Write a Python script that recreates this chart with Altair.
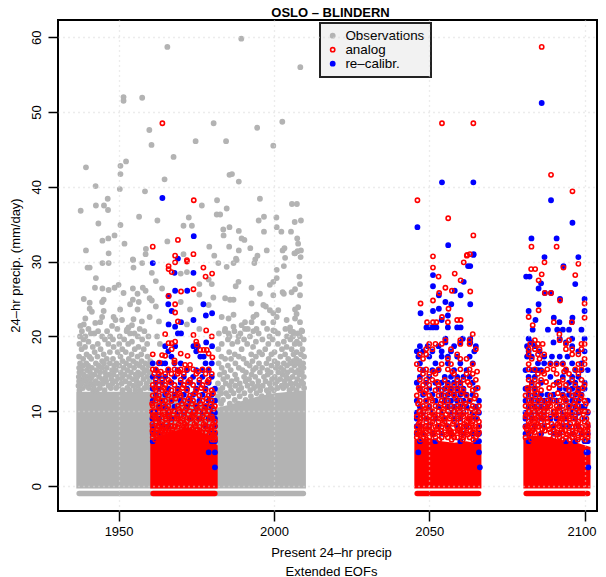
import altair as alt
import pandas as pd

F = "Liberation Sans"
GREY = "#b3b3b3"
XDOM = [1930.5, 2104.0]
YDOM = [-3.34, 62.3]

# solid, saturated parts of the clouds: upper envelope
MASS_BASE = -0.33
OBS_MASS_X = [1936.4, 1950, 1960, 1970, 1981, 1985, 1990, 1995, 2000, 2005, 2010.3]
OBS_MASS_Y = [12.6, 12.6, 12.6, 12, 10.4, 10.8, 11.4, 12, 12.4, 12.6, 12.8]
RED_MASS = [
    ([1960.2, 1964, 1968, 1972, 1976, 1979, 1981.9], [6.2, 6.8, 7.4, 7.8, 7.4, 6.6, 5.4]),
    ([2045.2, 2050, 2054, 2058, 2062, 2066.8], [6.2, 6.4, 6, 5.8, 6, 5.6]),
    ([2080.3, 2084, 2088, 2092, 2096, 2101.9], [6.4, 6.8, 6.6, 6.2, 6, 5.2]),
]
DRY_ROW_Y = -1
DRY_OBS = [1937.3, 2009.5]
DRY_RED = [[1961.1, 1981], [2046.1, 2065.9], [2081.2, 2101]]

OBS_PTS = [
 (1965.7,58.7),(1989.5,59.8),(2008.5,56.0),(1951.6,52.0),(1951.6,51.5),(1957.6,51.9),(1959.9,47.6),(1980.6,48.5),
 (1994.6,47.9),(2002.7,48.7),(1960.6,45.6),(1974.8,46.1),(1984.6,46.1),(1999.8,45.5),(1967.7,44.0),(1952.4,43.4),
 (1950.6,42.8),(1939.5,42.6),(1950.6,41.7),(1964.8,41.0),(1985.7,41.6),(1986.5,41.7),(1988.7,40.7),(1942.6,40.1),
 (1950.4,39.7),(1958.5,39.4),(1946.5,38.4),(1981.7,38.2),(1995.5,38.4),(2005.8,37.7),(2007.4,37.7),(1942.7,37.5),
 (1945.3,37.5),(1976.8,37.5),(1946.6,36.9),(1937.8,36.8),(1984.8,37.1),(1981.6,36.3),(1982.7,36.3),(1956.6,36.0),
 (1962.5,35.5),(1972.6,35.9),(1996.8,36.0),(1995.1,35.5),(2000.8,35.9),(2006.7,35.3),(2008.7,35.5),(1943.5,35.1),
 (1950.6,34.9),(1970.9,34.8),(1973.6,34.8),(2000.9,34.6),(1983.7,34.3),(1985.7,34.6),(1988.7,34.1),(1996.8,34.0),
 (2002.4,34.0),(2005.5,34.0),(1983.8,33.5),(1948.7,33.5),(1946.7,33.1),(1944.8,32.8),(1989.6,33.1),(1990.5,32.9),
 (2007.5,33.1),(2007.8,32.4),(1965.7,32.7),(1951.9,32.4),(1979.2,32.0),(1985.6,32.0),(1992.4,31.8),(1988.7,31.5),
 (1997.7,31.5),(1958.8,31.7),(1958.7,31.0),(1939.5,31.5),(1946.8,31.1),(2003.4,31.8),(2002.8,31.5),(2008.7,31.5),
 (2007.6,31.4),(2006.6,31.1),(1970.9,31.0),(1980.8,30.8),(1994.7,30.8),(1954.6,30.3),(1987.8,30.4),(2003.6,30.5),
 (2008.6,30.6),(1940.0,29.2),(1940.7,29.2),(1944.8,29.8),(1946.8,29.8),(1954.7,30.2),(1954.8,29.2),(1957.6,29.8),
 (1960.7,28.5),(1942.7,27.8),(1942.4,26.5),(1944.8,26.4),(1946.8,26.2),(1948.7,26.5),(1950,26.9),(1951.6,25.8),
 (1954.6,26.4),(1957.8,26.5),(1958.7,26.1),(1956.1,25.7),(1938.8,25.0),(1940.7,24.5),(1945.2,24.9),(1944.7,24.6),
 (1954.6,24.9),(1956.5,24.6),(1953.7,24.3),(1960,25.1),(1960.7,24.8),(1940.7,23.7),(1941.4,23.3),(1945.2,23.4),
 (1950.5,23.6),(1956.1,23.6),(1939.3,22.4),(1944.7,22.6),(1948.4,22.6),(1949,22.2),(1954.8,22.3),(1957.5,22),
 (1960,22.6),(1937.7,21.4),(1938.8,21.6),(1942.5,21.8),(1944.1,21.9),(1947.9,21.4),(1951.1,22.2),(1954.3,21.5),
 (1953.2,21.2),(1952.7,20.9),(1984.8,29.3),(1988,30.2),(1993.7,29.8),(1994,30.3),(2000.9,28.9),(2003.2,29.4),
 (1987,29.8),(2006.8,31.1),(1982.1,29.8),(2008.2,28),(2000.9,27.8),(1999.8,27.3),(1998.7,26.9),(1988.6,27.3),
 (1987.7,26.7),(1992.8,26.5),(2002.8,25.9),(2005.7,25.9),(2006.8,26.3),(2008.4,27),(1995.5,25.7),(1999.8,25.5),
 (1980.5,25.2),(1984.3,25.1),(1985.9,24.9),(1987,24.9),(1992.8,24.4),(1997.4,24),(2003.2,25.7),(2008.4,25.5),
 (2007.8,23.9),(2006.8,23.6),(1998.7,23.5),(1996.6,24.2),(1999.8,23.1),(2001.4,23.5),(1983.2,22.6),(1985.4,22.4),
 (1987,22.9),(1990.7,21.9),(1989.6,21.5),(1993.4,22.6),(1994.4,22.9),(1992.8,21.9),(1996.6,21.8),(1999.8,21.9),
 (2000.9,22.6),(2004.1,22.2),(2006.8,22.4),(2008.4,21.9),(2007.3,23),(1984.3,21),(1987,21.3),(1990.7,21),
 (1994.4,21),(1999.8,20.8),(2005.2,21.2),(2006.2,20.6),(2008.9,20.8),(1985.4,20.4),(1988.6,20),
 (1962,27.4),(1964,26.4),(1970,28.4),(1972,28.6),(1976,27),(1979,27.6),(1962,24),(1970,24.6),(1973,23.6),
 (1976,25.6),(1980,27),(1963,22),(1972,21.6),(1976,21),(1979,24.2),
]
OBS_LEVELS = [
 (21.0,[1940.3,1949.6,1956.8,1991.6,1997.8,2003.7]),
 (20.7,[1938.2,1943.4,1946.3,1952.6,1958.3,1984.2,1987.3,1993.4,2000.3,2005.4,2009.1]),
 (20.4,[1941.1,1955.1,1942.2,1953.7,1982.3,1989.2,1995.1,2001.3,2007.6]),
 (20.0,[1937.6,1939.3,1944.7,1947.3,1950.4,1956.2,1959.6,1962.4,1985.7,1992.3,1998.6,2004.2,2006.1,2008.4]),
 (19.6,[1938.7,1945.6,1948.2,1951.8,1957.6,1985.2,1990.4,1996.3,1999.6,2005.3,2009.6]),
 (19.3,[1940.3,1954.3,1988.3,1994.2,2003.2,2007.4]),
 (19.0,[1937.4,1943.3,1946.7,1950.2,1953.1,1959.2,1963.3,1983.2,1986.6,1991.4,1998.2,2001.3,2006.7,2008.3]),
 (18.6,[1939.2,1941.7,1948.4,1956.4,1993.3,2004.1]),
 (18.3,[1938.1,1944.2,1951.2,1955.2,1958.1,1982.1,1989.6,1997.2,2002.6,2005.7,2009.2]),
 (17.9,[1942.3,1947.2,1949.7,1952.3,1985.6,1995.3,2000.2,2007.3]),
 (17.6,[1939.7,1945.2,1954.2,1957.3,1987.4,1992.7,1996.2,1999.2,2003.6,2006.3,2008.7]),
 (17.3,[1937.3,1940.6,1943.2,1950.6,1956.1,1959.3,1983.1,1988.7,1994.2,2002.1,2009.7]),
 (17,[1938.6,1941.2,1946.2,1948.2,1953.3,1984.3,1986.2,1990.2,1998.3,2004.6,2007.2]),
 (16.7,[1944.7,1951.3,1954.7,1957.4,1960.2,1993.1,2000.2,2006.2,2008.2]),
 (16.4,[1937.6,1939.6,1942.7,1945.3,1947.2,1949.3,1952.4,1955.7,1958.6,1982.2,1987.6,1991.2,1995.2,1997.6,2001.2,2003.2,2005.2,2007.7,2009.4]),
 (16.1,[1938.6,1940.2,1943.6,1948.6,1950.2,1953.6,1956.7,1959.7,1985.2,1992.2,1999.2,2004.2,2006.6,2008.6]),
 (15.8,[1937.3,1941.4,1944.6,1946.2,1951.6,1955,1957.8,1983.2,1988.7,1994.2,1996.2,2002.2,2009.5,2000.6]),
 (15.5,[1938,1939.8,1942.9,1947.9,1949.1,1952.8,1959,1986.1,1989.9,1993.3,1997.9,2003.1,2005.6,2007.9]),
 (15.2,[1937.4,1940.8,1944,1945.6,1950.7,1954,1956.3,1958.2,1960,1984,1991,1995.5,1999,2001.4,2004.4,2006.8,2009]),
 (14.9,[1938.8,1942.2,1947,1948.4,1952,1955.5,1957.4,1982.6,1987.5,1992.8,1998,2002.8,2008.2]),
 (14.6,[1937.2,1939.9,1941.3,1943.7,1945.9,1949.8,1951.2,1953.4,1956,1959.2,1985,1990.4,1994,1996.8,2000.3,2004,2006,2009.6]),
 (14.3,[1938.4,1940.9,1944.7,1947.7,1950.5,1954.6,1958,1983.7,1988,1992,1999.4,2002,2005,2007.5]),
 (14,[1937.3,1939.5,1942.6,1946,1949,1952.2,1955.8,1960,1986.4,1990.9,1995,1997.3,2001,2003.5,2008.8]),
 (13.7,[1938,1941,1943.5,1945,1948,1951,1953.5,1957,1959,1982,1984.5,1989,1993,1998.6,2000.4,2005.4,2007,2009.4]),
 (13.4,[1937.1,1939.7,1942,1946.8,1950,1954.7,1956.2,1985.8,1987.6,1991.5,1994.8,1996.4,2002.5,2004,2008]),
 (13.1,[1938.5,1940.4,1944,1947.5,1949.2,1952.8,1958.4,1960,1983.4,1989.5,1993.6,1999,2001.2,2003,2006,2009.7]),
 (12.8,[1937.4,1941.8,1943,1945.5,1951.3,1953.5,1955.4,1957,1982.2,1986.2,1988.7,1992.4,1995.6,1997.7,2000,2005,2007.3]),
 (12.4,[1984.6,1990.5,1994.4,1998.3,1983,1987]),
 (12,[1982,1985.3,1989,1992.6,1996.1]),
 (11.5,[1981.8,1983.6,1987.4,1990.9]),
 (11,[1983,1985.8,1988.6]),
]

REC_PTS = [
 (1964.1,38.5),(1974.2,33.4),(1969.1,30.4),(1961,29.8),(1968,28.5),(1974.1,28.5),(1968.2,26.1),(1972.1,26.1),(1966.1,25.4),
 (1966,24.3),(1977.3,24.3),(1967.1,23.4),(1978.1,22.8),(1980.1,23.1),(1974.1,22.2),(1970.1,21.9),(1966.1,21.6),(1968.2,21.3),
 (2086.2,51.2),(2054.1,40.6),(2064.2,40.6),(2089.2,38.2),(2096.1,35.2),(2046.2,34.6),(2082.9,33.1),(2091,33.1),(2056.1,32.2),(2064.2,30.9),(2087.1,30.6),(2098,30.6),
 (2093.2,29.4),(2081.2,28),(2082.3,28),(2097,27),(2086,27.1),(2085.2,26.4),(2087.2,25.8),(2089.2,25.8),(2092.1,25),(2100,25),(2085.2,24.3),(2082,23.4),(2100,23.4),(2084.2,22.2),(2090.1,22.5),(2096.1,22.5),(2091.9,21.9),(2095.9,21.9),
 (2064.3,31),(2062.5,29.4),(2063.2,29.4),(2051.2,28.2),(2061.1,27.3),(2051.2,26.7),(2058.2,26.1),(2060.1,25.5),(2053.1,25.5),(2055.2,24.6),(2057.1,24.3),(2063.2,24.3),(2053.1,23.7),(2051.2,23.4),(2047.2,23.1),(2056,22.8),(2054,22.2),
]
REC_LEVELS = [
 (21.2,[2049.1,2050.2,2051.2,2052.3,2056,2059,2060.1]),
 (20.9,[2083.3,2088.2,2091.2,2093,2095,2099]),
 (20.4,[1969.1,1970.1]),
 (19.7,[2055.2,2060.8,2063.2,2082,2092,2096,2100]),
 (19.2,[1978.2,2055.2,2060,2063.2,2090,2094,2083]),
 (18.7,[1965,1968.2,1974.1,1975.5,1980.1,2047,2049.5,2053,2058,2065,2081.5,2084,2096]),
 (18,[1966,1975,2046,2048,2051,2054,2057,2064.5,2082,2085.5,2098,2100]),
 (17.3,[1967,1976.3,1977.4,2046.5,2050,2054,2056,2059,2063,2081.5,2083,2087,2089.5,2092,2094.5]),
 (16.4,[1961,1963,1964,1965,1968,1970,1978,1980,2047,2052,2056,2060,2064,2085,2087,2089,2091,2093,2096,2099]),
 (15.5,[1962,1966,1969,1972,1975,1977,1979,2048,2051,2053,2058,2062,2081,2083,2084,2085,2086,2094,2097,2099,2101]),
 (14.6,[1961,1963,1965,1968,1971,1974,1977,1980,2047,2050,2055,2057,2059,2061,2063,2082,2084,2089,2093,2096,2098]),
 (13.8,[1962,1964,1967,1970,1973,1976,1979,2046,2049,2052,2054,2056,2058,2060,2064,2083,2086,2091,2095,2097,2100]),
 (13,[1961,1963,1966,1969,1972,1975,1978,1981,2047,2050,2053,2055,2057,2059,2061,2065,2081,2082,2084,2092,2094,2096,2098,2100]),
 (12.2,[1962,1965,1968,1971,1974,1977,1980,2048,2051,2054,2056,2058,2060,2062,2064,2082,2084,2086,2088,2090,2093,2095,2097,2099]),
 (11.4,[1961,1964,1967,1970,1973,1976,1979,1981,2046,2049,2052,2055,2057,2059,2061,2063,2066,2081,2083,2085,2087,2089,2091,2094,2096,2098,2101]),
 (10.6,[1963,1965,1968,1972,1975,1978,1980,2047,2050,2053,2056,2058,2060,2062,2065,2082,2084,2086,2088,2092,2095,2097,2099,2100]),
 (9.8,[1961,1962,1966,1969,1971,1974,1977,1980,1981,2046,2048,2051,2054,2057,2059,2061,2064,2066,2081,2083,2085,2087,2090,2093,2096,2098,2101]),
 (9,[1960.9,1963,1967,1973,1976,1979,1981,2046,2049,2052,2055,2058,2060,2063,2065,2081,2083,2086,2089,2091,2094,2097,2100]),
 (8,[1961,1964,1966,1978,1981,2046,2047,2050,2053,2056,2059,2062,2066,2081,2084,2087,2090,2093,2095,2098,2101]),
 (7,[1961,1963,1980,1981,2046,2048,2051,2054,2057,2061,2064,2066,2081,2082,2086,2090,2092,2096,2099,2101]),
 (6,[1961,1980,1981,2047,2052,2060,2065,2066,2082,2094,2097,2100,2101]),
 (4.5,[1979,1981,2046.5,2066,2100.6,2101]),
 (2.5,[1981,2066.3,2101.2]),
]

ANA_PTS = [
 (1964.1,48.5),(1974.2,38.2),(1969.1,32.9),(1961,32.0),(1968.2,30.8),(1974.1,31.0),(1972,30.2),(1966.1,29.4),(1966.1,29),(1967.1,28.6),(1968.2,29.9),
 (1972,30),(1977.3,29.2),(1978,28),(1980.1,28.4),(1970.1,26),(1974.1,26.3),(1966.1,25.4),(1968.2,24.3),(1968.2,23.2),(1969.1,22),
 (1965,20.3),(1974.1,20.2),(1978.2,20.8),(1980,20),(1966.1,19.1),(1967.1,19.1),(1968.2,19.3),(1975,19.3),(1975.2,18.9),(1967.1,18.3),
 (1976.3,18.2),(1977.4,18.2),(1978.4,18.2),(1970,17.7),(1961,17.6),(1964,17.5),(1965,17.4),(1972.2,17.4),(1979,17.7),(1980.2,17.2),
 (1968,16.8),(1968,16.5),(1963.1,16.5),(1971.4,16.2),(1973,16.2),
 (2086.2,58.7),(2054.1,48.5),(2064.2,48.5),(2089.2,41.6),(2096.1,39.4),(2046.2,38.2),(2056.1,35.8),(2064.2,33.5),(2082.9,32),(2091,32),
 (2063.1,31),(2062.1,30.8),(2051.2,30.7),(2062.2,30.9),(2061.1,29.9),(2051.2,29.2),(2053,28),(2058.2,28.4),(2060.1,27.5),(2055.2,26.5),(2057.3,26.1),
 (2053.2,25.8),(2063.2,26),(2051.2,24.8),(2047.2,24.4),(2056.2,23.7),(2054.1,22.6),(2056,21.9),(2049.3,21.9),(2051.2,21.9),(2052.3,21.9),(2059,22.2),(2060.1,22.2),(2064,20.3),
 (2087.1,29.9),(2098,29.7),(2082.8,29),(2084.1,29),(2093.2,29.2),(2086.2,28.3),(2097,28.2),(2085.2,27.5),(2087.2,25.8),(2089.2,25.8),(2092.1,24.8),
 (2100,24.4),(2085.2,23.5),(2082,22.6),(2100,22.5),(2090.1,21.9),(2095.9,21.9),(2083.3,21.5),(2091.9,20.3),
]
ANA_LEVELS = [
 (19.5,[2055.2,2060,2063,2095,2092,2084]),
 (19,[2050,2052,2054,2060,2063,2082.5,2085,2086.5,2094,2099,2100]),
 (18.3,[2049,2051,2057,2065,2082,2084,2085.5,2094,2096,2099]),
 (17.6,[2047,2049,2059,2082,2085,2087,2096,2098]),
 (17,[2048,2056,2060,2062,2083,2085.5,2100]),
 (16.3,[2046,2054,2057,2064,2082,2089,2091,2093,2098,2100]),
 (15.6,[1961,1962,1966,1968,1970,1972,1974,1977,1979,2047,2049,2053,2056,2060,2063,2082,2084,2088,2090,2094,2097,2099]),
 (15,[1961.5,1963,1965,1967,1969,1971,1975,1978,1980,2048,2050,2052,2058,2062,2064,2085,2087,2091,2095,2098]),
 (14.2,[1962,1964,1966,1970,1973,1976,1979,2047,2049,2051,2055,2059,2061,2065,2082,2084,2086,2093,2096,2099]),
 (13.5,[1961,1963,1965,1968,1971,1974,1977,2048,2050,2053,2056,2058,2060,2063,2083,2085,2090,2092,2094,2097,2100]),
 (12.8,[1962,1964,1967,1969,1972,1975,1978,1980,2047,2049,2052,2054,2057,2059,2061,2064,2082,2084,2086,2095,2098]),
 (12.1,[1961,1963,1966,1968,1970,1973,1976,1979,2046,2050,2053,2055,2058,2062,2065,2081,2083,2089,2093,2096,2099]),
 (11.4,[1962,1964,1965,1967,1971,1974,1977,1980,2047,2049,2051,2054,2056,2060,2063,2082,2084,2086,2088,2090,2092,2094,2097,2100]),
 (10.7,[1961,1963,1966,1969,1972,1975,1978,1981,2048,2050,2052,2055,2057,2059,2061,2064,2066,2081,2083,2085,2087,2089,2091,2093,2095,2098]),
 (10,[1962,1964,1967,1968,1970,1973,1976,1979,2047,2049,2051,2053,2056,2058,2060,2062,2065,2082,2084,2086,2088,2090,2092,2094,2096,2099,2100]),
 (9.3,[1961,1963,1965,1966,1969,1971,1974,1977,1980,2046,2048,2050,2052,2054,2057,2059,2061,2063,2081,2083,2085,2087,2089,2091,2093,2095,2097]),
 (8.6,[1962,1964,1967,1970,1972,1975,1978,1981,2047,2049,2051,2053,2055,2058,2060,2062,2064,2066,2082,2084,2086,2088,2092,2094,2098,2100]),
 (7.9,[1961,1963,1965,1966,1968,1969,1971,1973,1976,1979,1980,2046,2048,2050,2052,2054,2056,2059,2061,2063,2065,2081,2083,2085,2087,2090,2093,2096,2099,2101]),
 (7.2,[1961,1962,1964,1966,1967,1977,1978,1980,1981,2046,2047,2049,2051,2053,2055,2057,2058,2060,2062,2064,2066,2082,2084,2089,2091,2093,2095,2097,2100]),
 (6.5,[1961,1963,1965,1978,1979,1980,1981,2046,2048,2050,2052,2054,2056,2058,2059,2061,2063,2065,2081,2090,2092,2094,2096,2098,2099,2101]),
 # further passes over the busy zone, between the rows above
 (15.3,[1963.6,1969.4,1975.6,2051.4,2057.4,2065.4,2086.4,2093.4]),
 (13.9,[1966.6,1972.4,1978.6,2052.6,2062.4,2087.6,2091.6]),
 (13.1,[1961.6,1964.6,1970.6,1976.6,2046.6,2055.6,2065.6,2081.6,2088.6,2099.4]),
 (12.4,[1965.4,1969.6,1974.6,1980.4,2048.4,2056.6,2060.4,2084.6,2091.4,2097.6]),
 (11.7,[1962.6,1968.4,1972.6,1978.4,2050.6,2058.6,2064.6,2085.4,2093.6,2098.6]),
 (11,[1960.8,1964.4,1970.4,1973.6,1976.4,1979.6,2046.4,2053.6,2061.6,2082.6,2088.4,2096.6,2100.4]),
 (10.3,[1963.4,1965.6,1969.4,1971.6,1975.4,1977.6,1980.6,2048.6,2054.6,2059.4,2063.6,2084.4,2087.4,2091.4,2097.4]),
 (9.6,[1961.4,1964.6,1967.6,1972.4,1974.6,1978.4,2047.4,2051.6,2055.4,2060.6,2064.4,2081.4,2085.6,2090.4,2094.6,2099.6]),
 (9,[1962.4,1966.4,1968.6,1970.6,1973.4,1976.6,1979.4,2049.4,2053.4,2056.6,2062.6,2065.4,2083.4,2086.6,2092.4,2096.4,2100.6]),
 (8.3,[1960.9,1963.6,1965.4,1969.4,1971.4,1974.4,1977.4,1980.4,2046.6,2050.4,2054.4,2057.6,2061.4,2063.6,2082.4,2084.6,2089.4,2091.4,2095.4,2097.6,2101]),
 (7.6,[1962.4,1964.4,1967.4,1970.4,1973.6,1975.4,1978.6,2047.6,2049.6,2052.4,2056.4,2059.6,2064.6,2081.4,2083.6,2086.4,2088.6,2092.6,2098.4,2100.4]),
 (6.9,[1961.4,1963.4,1965.6,1979.4,1980.6,2046.4,2048.4,2051.4,2055.4,2057.4,2060.4,2062.4,2065.6,2082.6,2085.6,2091.4,2094.4,2096.6,2099.4,2101]),
 (9.95,[1960.7,1963.8,1966.2,1970.9,1974.2,1977.9,2046.8,2050.7,2054.2,2058.3,2061.9,2065.8,2082.3,2086.8,2090.8,2094.3,2098.2,2101]),
 (9.0,[1961.7,1965.2,1969.2,1972.8,1975.8,1980.2,2047.2,2051.2,2054.8,2059.2,2063.2,2084.2,2087.8,2092.9,2095.2,2099.2]),
 (8.0,[1962.8,1966.8,1968.2,1971.8,1974.8,1977.8,1981,2048.8,2052.8,2055.8,2060.2,2062.8,2066,2081.8,2085.2,2088.2,2091.8,2094.2,2097.2,2100.8]),
 (7.4,[1960.9,1963.8,1965.2,1976.2,1979.8,2046.9,2050.2,2053.8,2056.8,2059.2,2061.2,2063.2,2083.2,2087.2,2090.2,2093.8,2096.2,2098.8,2101]),
 (6.2,[1961.8,1964.8,1977.2,1980.2,1981,2047.2,2049.2,2053.2,2057.2,2060.8,2064.2,2082.8,2086.2,2089.2,2092.8,2095.2,2097.8,2100.2]),
]

rows = []
def add(series, pts, levels):
    for x, y in pts:
        rows.append({"year": x, "precip": y, "series": series})
    for y, xs in levels:
        for x in xs:
            rows.append({"year": x, "precip": y, "series": series})
add("Observations", OBS_PTS, OBS_LEVELS)
add("re\u2013calibr.", REC_PTS, REC_LEVELS)
add("analog", ANA_PTS, ANA_LEVELS)
pts = pd.DataFrame(rows)

SERIES = ["Observations", "analog", "re\u2013calibr."]
xscale = alt.Scale(domain=XDOM, nice=False, zero=False)
yscale = alt.Scale(domain=YDOM, nice=False, zero=False)
XAXIS = alt.Axis(
    values=[1950, 2000, 2050, 2100], format="d", grid=True, gridDash=[1, 4], gridColor="#d9d9d9", gridWidth=1.3,
    zindex=1, domain=False, tickColor="black", tickWidth=1.5, tickSize=10, labelPadding=4, labelFont=F,
    labelFontSize=13, labelColor="black", labelOffset=alt.ExprRef("datum.value == 2100 ? -3 : 0"),
    title=["Present 24\u2013hr precip", "Extended EOFs"], titleFont=F,
    titleFontSize=13, titleFontWeight="normal", titleColor="black", titleLineHeight=19, titlePadding=8, titleX=273)
YAXIS = alt.Axis(
    values=[0, 10, 20, 30, 40, 50, 60], grid=True, gridDash=[1, 4], gridColor="#d9d9d9", gridWidth=1.3,
    zindex=1, domain=False, tickColor="black", tickWidth=1.5, tickSize=10, labelPadding=5, labelFont=F,
    labelFontSize=13, labelColor="black", labelAngle=270, labelAlign="center", labelBaseline="bottom",
    title="24\u2013hr precip. (mm/day)", titleFont=F, titleFontSize=13, titleFontWeight="normal",
    titleColor="black", titleX=-36, titleY=245)
X = alt.X("year:Q", scale=xscale, axis=XAXIS)
Y = alt.Y("precip:Q", scale=yscale, axis=YAXIS)

def mass(xs, ys, color):
    d = pd.DataFrame({"year": xs, "precip": ys, "base": [MASS_BASE] * len(xs)})
    return alt.Chart(d).mark_area(color=color, interpolate="linear", opacity=1).encode(X, Y, y2="base:Q")

def dry(xs, color):
    d = pd.DataFrame({"year": [xs[0]], "b": [xs[1]], "precip": [DRY_ROW_Y]})
    return alt.Chart(d).mark_rule(color=color, strokeWidth=5.4, strokeCap="round").encode(X, x2="b:Q", y=Y)

legend = alt.Legend(title=None, orient="none", legendX=262, legendY=3, fillColor="#f2f2f2", strokeColor="#222222",
                    padding=6, rowPadding=-1.3, labelFont=F, labelFontSize=13.4, labelColor="black", labelOffset=6,
                    symbolSize=18, symbolStrokeWidth=1.6, symbolType="circle", labelLimit=200)
dots = alt.Chart(pts).mark_circle(size=18, strokeWidth=1.6, opacity=1).encode(
    X, Y,
    fill=alt.Fill("series:N", scale=alt.Scale(domain=SERIES, range=[GREY, "transparent", "#0000ff"]), legend=legend),
    stroke=alt.Stroke("series:N", scale=alt.Scale(domain=SERIES, range=[GREY, "#ff0000", "#0000ff"]), legend=legend),
)

layers = [mass(OBS_MASS_X, OBS_MASS_Y, GREY), dry(DRY_OBS, GREY)]
layers += [dry(d, "#ff0000") for d in DRY_RED]
layers += [mass(a, b, "#ff0000") for a, b in RED_MASS]
layers += [dots]

chart = alt.layer(*layers).properties(
    width=539, height=491,
    title=alt.TitleParams("OSLO \u2013 BLINDERN", font=F, fontSize=13, fontWeight="bold", color="black", anchor="middle", offset=0, dx=3),
    padding={"left": 50, "top": 12, "right": 1, "bottom": 66},
    autosize=alt.AutoSizeParams(type="none"),
).configure_view(stroke="black", strokeWidth=2).configure_legend(strokeWidth=2)

chart.save("out.html", embed_options={"renderer": "svg", "actions": False})
